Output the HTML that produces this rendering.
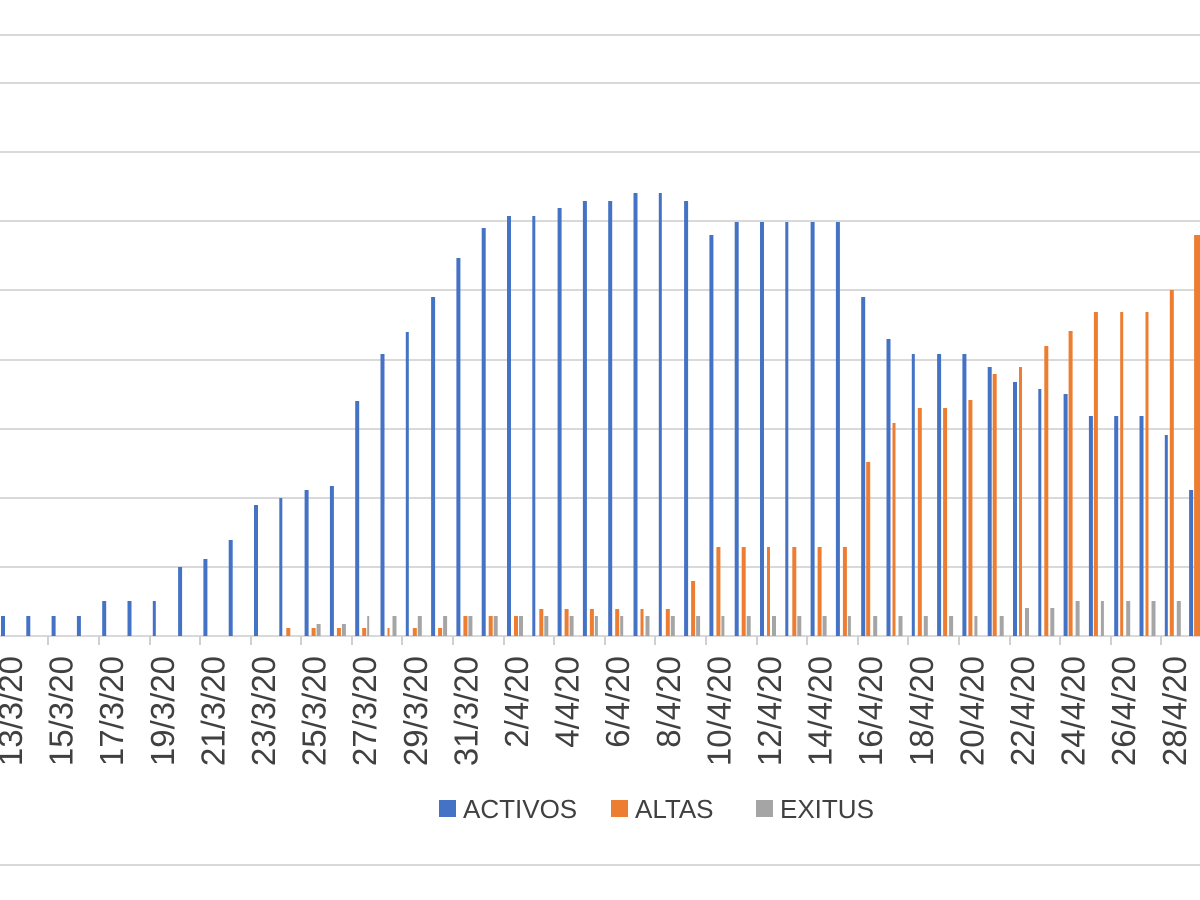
<!DOCTYPE html>
<html><head><meta charset="utf-8"><style>
html,body{margin:0;padding:0;background:#fff;}
svg{display:block;}
text{font-family:"Liberation Sans",sans-serif;fill:#404040;}
.b{fill:#4472c4}.o{fill:#ed7d31}.g{fill:#a5a5a5}
</style></head><body>
<svg width="1200" height="900" viewBox="0 0 1200 900" xmlns="http://www.w3.org/2000/svg">
<g stroke="#d9d9d9" stroke-width="2">
<line x1="0" y1="35" x2="1200" y2="35"/>
<line x1="0" y1="83" x2="1200" y2="83"/>
<line x1="0" y1="152" x2="1200" y2="152"/>
<line x1="0" y1="221" x2="1200" y2="221"/>
<line x1="0" y1="290" x2="1200" y2="290"/>
<line x1="0" y1="360" x2="1200" y2="360"/>
<line x1="0" y1="429" x2="1200" y2="429"/>
<line x1="0" y1="498" x2="1200" y2="498"/>
<line x1="0" y1="567" x2="1200" y2="567"/>
<line x1="0" y1="636" x2="1200" y2="636"/>
<line x1="0" y1="865" x2="1200" y2="865"/>
</g>
<g stroke="#d0d0d0" stroke-width="2">
<line x1="48" y1="636" x2="48" y2="645"/><line x1="99" y1="636" x2="99" y2="645"/><line x1="150" y1="636" x2="150" y2="645"/><line x1="200" y1="636" x2="200" y2="645"/><line x1="251" y1="636" x2="251" y2="645"/><line x1="301" y1="636" x2="301" y2="645"/><line x1="352" y1="636" x2="352" y2="645"/><line x1="402" y1="636" x2="402" y2="645"/><line x1="453" y1="636" x2="453" y2="645"/><line x1="504" y1="636" x2="504" y2="645"/><line x1="554" y1="636" x2="554" y2="645"/><line x1="605" y1="636" x2="605" y2="645"/><line x1="655" y1="636" x2="655" y2="645"/><line x1="706" y1="636" x2="706" y2="645"/><line x1="757" y1="636" x2="757" y2="645"/><line x1="807" y1="636" x2="807" y2="645"/><line x1="858" y1="636" x2="858" y2="645"/><line x1="908" y1="636" x2="908" y2="645"/><line x1="959" y1="636" x2="959" y2="645"/><line x1="1010" y1="636" x2="1010" y2="645"/><line x1="1060" y1="636" x2="1060" y2="645"/><line x1="1111" y1="636" x2="1111" y2="645"/><line x1="1161" y1="636" x2="1161" y2="645"/>
</g>
<g class="b">
<rect x="1" y="616" width="4" height="20"/>
<rect x="26.3" y="616" width="4" height="20"/>
<rect x="51.6" y="616" width="4" height="20"/>
<rect x="76.9" y="616" width="4" height="20"/>
<rect x="102.2" y="601" width="4" height="35"/>
<rect x="127.5" y="601" width="4" height="35"/>
<rect x="152.8" y="601" width="3" height="35"/>
<rect x="178.1" y="567" width="4" height="69"/>
<rect x="203.4" y="559" width="4" height="77"/>
<rect x="228.7" y="540" width="4" height="96"/>
<rect x="254" y="505" width="4" height="131"/>
<rect x="279.3" y="498" width="3" height="138"/>
<rect x="304.6" y="490" width="4" height="146"/>
<rect x="329.9" y="486" width="4" height="150"/>
<rect x="355.2" y="401" width="4" height="235"/>
<rect x="380.5" y="354" width="4" height="282"/>
<rect x="405.8" y="332" width="3" height="304"/>
<rect x="431.1" y="297" width="4" height="339"/>
<rect x="456.4" y="258" width="4" height="378"/>
<rect x="481.7" y="228" width="4" height="408"/>
<rect x="507" y="216" width="4" height="420"/>
<rect x="532.3" y="216" width="3" height="420"/>
<rect x="557.6" y="208" width="4" height="428"/>
<rect x="582.9" y="201" width="4" height="435"/>
<rect x="608.2" y="201" width="4" height="435"/>
<rect x="633.5" y="193" width="4" height="443"/>
<rect x="658.8" y="193" width="3" height="443"/>
<rect x="684.1" y="201" width="4" height="435"/>
<rect x="709.4" y="235" width="4" height="401"/>
<rect x="734.7" y="222" width="4" height="414"/>
<rect x="760" y="222" width="4" height="414"/>
<rect x="785.3" y="222" width="3" height="414"/>
<rect x="810.6" y="222" width="4" height="414"/>
<rect x="835.9" y="222" width="4" height="414"/>
<rect x="861.2" y="297" width="4" height="339"/>
<rect x="886.5" y="339" width="4" height="297"/>
<rect x="911.8" y="354" width="3" height="282"/>
<rect x="937.1" y="354" width="4" height="282"/>
<rect x="962.4" y="354" width="4" height="282"/>
<rect x="987.7" y="367" width="4" height="269"/>
<rect x="1013" y="382" width="4" height="254"/>
<rect x="1038.3" y="389" width="3" height="247"/>
<rect x="1063.6" y="394" width="4" height="242"/>
<rect x="1088.9" y="416" width="4" height="220"/>
<rect x="1114.2" y="416" width="4" height="220"/>
<rect x="1139.5" y="416" width="4" height="220"/>
<rect x="1164.8" y="435" width="3" height="201"/>
<rect x="1189.1" y="490" width="4" height="146"/>
</g>
<g class="o">
<rect x="286.3" y="628" width="4" height="8"/>
<rect x="311.6" y="628" width="4" height="8"/>
<rect x="336.9" y="628" width="4" height="8"/>
<rect x="362.2" y="628" width="4" height="8"/>
<rect x="387.5" y="628" width="2" height="8"/>
<rect x="412.8" y="628" width="4" height="8"/>
<rect x="438.1" y="628" width="4" height="8"/>
<rect x="463.4" y="616" width="4" height="20"/>
<rect x="488.7" y="616" width="4" height="20"/>
<rect x="514" y="616" width="4" height="20"/>
<rect x="539.3" y="609" width="4" height="27"/>
<rect x="564.6" y="609" width="4" height="27"/>
<rect x="589.9" y="609" width="4" height="27"/>
<rect x="615.2" y="609" width="4" height="27"/>
<rect x="640.5" y="609" width="3" height="27"/>
<rect x="665.8" y="609" width="4" height="27"/>
<rect x="691.1" y="581" width="4" height="55"/>
<rect x="716.4" y="547" width="4" height="89"/>
<rect x="741.7" y="547" width="4" height="89"/>
<rect x="767" y="547" width="3" height="89"/>
<rect x="792.3" y="547" width="4" height="89"/>
<rect x="817.6" y="547" width="4" height="89"/>
<rect x="842.9" y="547" width="4" height="89"/>
<rect x="866.2" y="462" width="4" height="174"/>
<rect x="892.5" y="423" width="3" height="213"/>
<rect x="917.8" y="408" width="4" height="228"/>
<rect x="943.1" y="408" width="4" height="228"/>
<rect x="968.4" y="400" width="4" height="236"/>
<rect x="992.7" y="374" width="4" height="262"/>
<rect x="1019" y="367" width="3" height="269"/>
<rect x="1044.3" y="346" width="4" height="290"/>
<rect x="1068.6" y="331" width="4" height="305"/>
<rect x="1093.9" y="312" width="4" height="324"/>
<rect x="1120.2" y="312" width="3" height="324"/>
<rect x="1145.5" y="312" width="3" height="324"/>
<rect x="1169.8" y="290" width="4" height="346"/>
<rect x="1194.1" y="235" width="6" height="401"/>
</g>
<g class="g">
<rect x="316.6" y="624" width="4" height="12"/>
<rect x="341.9" y="624" width="4" height="12"/>
<rect x="367.2" y="616" width="2" height="20"/>
<rect x="392.5" y="616" width="4" height="20"/>
<rect x="417.8" y="616" width="4" height="20"/>
<rect x="443.1" y="616" width="4" height="20"/>
<rect x="468.4" y="616" width="4" height="20"/>
<rect x="493.7" y="616" width="4" height="20"/>
<rect x="519" y="616" width="4" height="20"/>
<rect x="544.3" y="616" width="4" height="20"/>
<rect x="569.6" y="616" width="4" height="20"/>
<rect x="594.9" y="616" width="3" height="20"/>
<rect x="620.2" y="616" width="3" height="20"/>
<rect x="645.5" y="616" width="4" height="20"/>
<rect x="670.8" y="616" width="4" height="20"/>
<rect x="696.1" y="616" width="4" height="20"/>
<rect x="721.4" y="616" width="3" height="20"/>
<rect x="746.7" y="616" width="4" height="20"/>
<rect x="772" y="616" width="4" height="20"/>
<rect x="797.3" y="616" width="4" height="20"/>
<rect x="822.6" y="616" width="4" height="20"/>
<rect x="847.9" y="616" width="3" height="20"/>
<rect x="873.2" y="616" width="4" height="20"/>
<rect x="898.5" y="616" width="4" height="20"/>
<rect x="923.8" y="616" width="4" height="20"/>
<rect x="949.1" y="616" width="4" height="20"/>
<rect x="974.4" y="616" width="3" height="20"/>
<rect x="999.7" y="616" width="4" height="20"/>
<rect x="1025" y="608" width="4" height="28"/>
<rect x="1050.3" y="608" width="4" height="28"/>
<rect x="1075.6" y="601" width="4" height="35"/>
<rect x="1100.9" y="601" width="3" height="35"/>
<rect x="1126.2" y="601" width="4" height="35"/>
<rect x="1151.5" y="601" width="4" height="35"/>
<rect x="1176.8" y="601" width="4" height="35"/>
</g>
<g font-size="33">
<text transform="translate(22,656) rotate(-90)" text-anchor="end">13/3/20</text>
<text transform="translate(72.6,656) rotate(-90)" text-anchor="end">15/3/20</text>
<text transform="translate(123.2,656) rotate(-90)" text-anchor="end">17/3/20</text>
<text transform="translate(173.8,656) rotate(-90)" text-anchor="end">19/3/20</text>
<text transform="translate(224.4,656) rotate(-90)" text-anchor="end">21/3/20</text>
<text transform="translate(275,656) rotate(-90)" text-anchor="end">23/3/20</text>
<text transform="translate(325.6,656) rotate(-90)" text-anchor="end">25/3/20</text>
<text transform="translate(376.2,656) rotate(-90)" text-anchor="end">27/3/20</text>
<text transform="translate(426.8,656) rotate(-90)" text-anchor="end">29/3/20</text>
<text transform="translate(477.4,656) rotate(-90)" text-anchor="end">31/3/20</text>
<text transform="translate(528,656) rotate(-90)" text-anchor="end">2/4/20</text>
<text transform="translate(578.6,656) rotate(-90)" text-anchor="end">4/4/20</text>
<text transform="translate(629.2,656) rotate(-90)" text-anchor="end">6/4/20</text>
<text transform="translate(679.8,656) rotate(-90)" text-anchor="end">8/4/20</text>
<text transform="translate(730.4,656) rotate(-90)" text-anchor="end">10/4/20</text>
<text transform="translate(781,656) rotate(-90)" text-anchor="end">12/4/20</text>
<text transform="translate(831.6,656) rotate(-90)" text-anchor="end">14/4/20</text>
<text transform="translate(882.2,656) rotate(-90)" text-anchor="end">16/4/20</text>
<text transform="translate(932.8,656) rotate(-90)" text-anchor="end">18/4/20</text>
<text transform="translate(983.4,656) rotate(-90)" text-anchor="end">20/4/20</text>
<text transform="translate(1034,656) rotate(-90)" text-anchor="end">22/4/20</text>
<text transform="translate(1084.6,656) rotate(-90)" text-anchor="end">24/4/20</text>
<text transform="translate(1135.2,656) rotate(-90)" text-anchor="end">26/4/20</text>
<text transform="translate(1185.8,656) rotate(-90)" text-anchor="end">28/4/20</text>
</g>
<rect x="439" y="800" width="17" height="17" class="b"/>
<text x="463" y="818" font-size="26">ACTIVOS</text>
<rect x="611" y="800" width="17" height="17" class="o"/>
<text x="635" y="818" font-size="26">ALTAS</text>
<rect x="756" y="800" width="17" height="17" class="g"/>
<text x="780" y="818" font-size="26">EXITUS</text>
</svg>
</body></html>
